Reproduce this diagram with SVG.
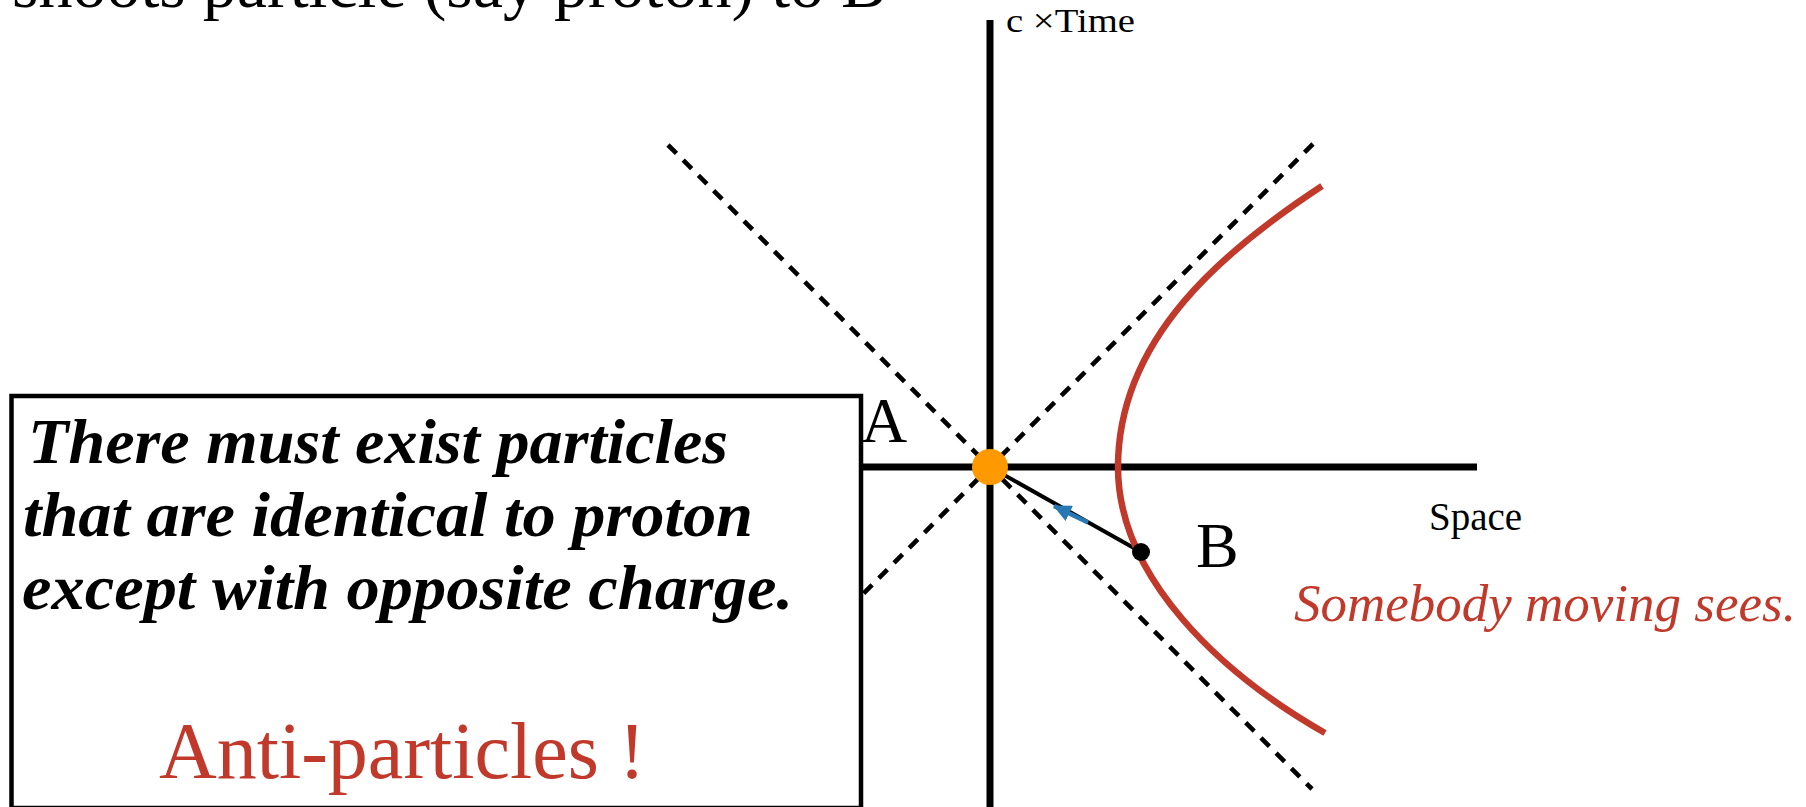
<svg xmlns="http://www.w3.org/2000/svg" width="1806" height="807" viewBox="0 0 1806 807">
<style>
  .axis { stroke: #000; stroke-width: 7; fill: none; }
  .dash { stroke: #000; stroke-width: 4.6; stroke-dasharray: 12 9.5; fill: none; }
  .serif { font-family: "Liberation Serif", "Times New Roman", serif; }
  .red { fill: #C0392B; }
  .boxtext { font-family: "Liberation Serif", "Times New Roman", serif; font-weight: bold; font-style: italic; font-size: 63px; fill: #000; }
</style>
<defs>
  <marker id="ah" viewBox="0 0 18 17" refX="17" refY="8.5" markerWidth="18" markerHeight="17" markerUnits="userSpaceOnUse" orient="auto">
    <path d="M0,0 L18,8.5 L0,17 z" fill="#2878B4"/>
  </marker>
</defs>
<rect width="1806" height="807" fill="#fff"/>

<g id="axes">
  <line class="axis" x1="990" y1="20" x2="990" y2="807"/>
  <line class="axis" x1="700" y1="467" x2="1477" y2="467"/>
</g>

<g id="connectors">
  <line class="dash" x1="668" y1="145" x2="1312" y2="789"/>
  <line class="dash" x1="1313" y1="144" x2="840" y2="617"/>
  <line x1="990" y1="467" x2="1141" y2="552" stroke="#000" stroke-width="4"/>
  <line x1="1088" y1="522.5" x2="1054" y2="506" stroke="#2878B4" stroke-width="4.5" marker-end="url(#ah)"/>
</g>

<g id="hyperbola">
  <path d="M1322,186 C1226,249 1118,337 1118,467 C1118,577 1220,673 1325,733" fill="none" stroke="#C0392B" stroke-width="6.5"/>
</g>

<g id="event-B">
  <circle cx="1141" cy="552" r="9" fill="#000"/>
  <text class="serif" x="1196" y="567" font-size="64">B</text>
</g>

<g id="event-A">
  <circle cx="990" cy="467" r="18" fill="#FF9900"/>
  <text class="serif" x="861" y="442" font-size="64">A</text>
</g>

<g id="axis-labels">
  <text class="serif" x="1006" y="32" font-size="33" textLength="129" lengthAdjust="spacingAndGlyphs">c ×Time</text>
  <text class="serif" x="1429" y="530" font-size="39">Space</text>
</g>

<g id="moving-observer">
  <text class="serif red" x="1294" y="621" font-size="53" font-style="italic">Somebody moving sees.</text>
</g>

<g id="title">
  <text class="serif" x="12" y="7" font-size="68">shoots particle (say proton) to B</text>
</g>

<g id="info-box">
  <rect x="11.5" y="396" width="849.5" height="412" fill="#fff" stroke="#000" stroke-width="4.5"/>
  <text class="boxtext" x="28" y="463" textLength="700" lengthAdjust="spacingAndGlyphs">There must exist particles</text>
  <text class="boxtext" x="23" y="536" textLength="730" lengthAdjust="spacingAndGlyphs">that are identical to proton</text>
  <text class="boxtext" x="22" y="609" textLength="771" lengthAdjust="spacingAndGlyphs">except with opposite charge.</text>
  <text class="serif red" x="159" y="778" font-size="80">Anti-particles !</text>
</g>
</svg>
